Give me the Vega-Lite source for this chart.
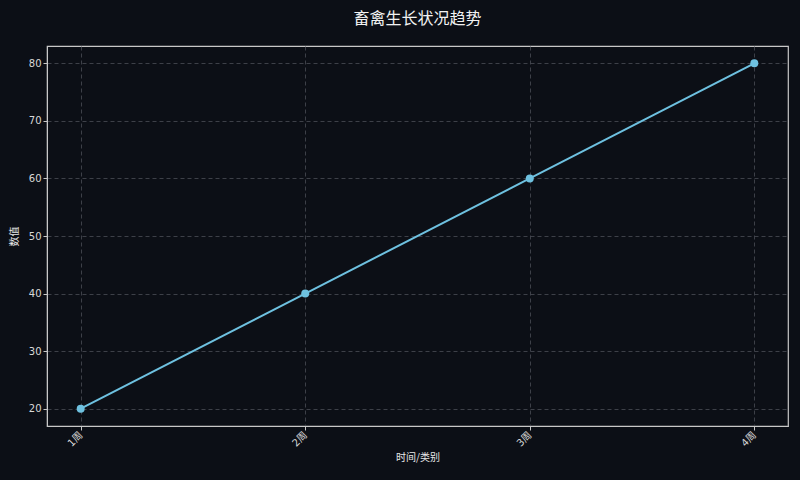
{
  "$schema": "https://vega.github.io/schema/vega-lite/v6.json",
  "autosize": {"type": "none"},
  "width": 741,
  "height": 380,
  "padding": {"left": 47, "top": 46, "right": 12, "bottom": 54},
  "background": "#0c0f16",
  "title": {
    "text": "畜禽生长状况趋势",
    "color": "#f2f2f2",
    "fontSize": 16,
    "fontWeight": "normal",
    "font": "Noto Sans CJK SC",
    "anchor": "middle",
    "offset": 19
  },
  "data": {
    "values": [
      {"period": "1周", "value": 20},
      {"period": "2周", "value": 40},
      {"period": "3周", "value": 60},
      {"period": "4周", "value": 80}
    ]
  },
  "encoding": {
    "x": {
      "field": "period",
      "type": "ordinal",
      "sort": null,
      "scale": {"type": "point", "padding": 0.15},
      "axis": {
        "title": "时间/类别",
        "labelAngle": -45,
        "labelAlign": "right",
        "labelBaseline": "middle",
        "labelPadding": 3
      }
    },
    "y": {
      "field": "value",
      "type": "quantitative",
      "scale": {"domain": [17, 83], "nice": false, "zero": false},
      "axis": {"title": "数值", "values": [20, 30, 40, 50, 60, 70, 80], "titlePadding": 9}
    }
  },
  "layer": [
    {"mark": {"type": "line", "color": "#6ec1e0", "strokeWidth": 2}},
    {"mark": {"type": "point", "filled": true, "color": "#6ec1e0", "size": 64, "opacity": 1}}
  ],
  "config": {
    "view": {"stroke": "#c8c8c8", "strokeWidth": 1.2},
    "axis": {
      "domainColor": "#c8c8c8",
      "tickColor": "#c8c8c8",
      "tickSize": 4,
      "labelColor": "#d8d8d8",
      "labelFontSize": 10,
      "labelFont": "DejaVu Sans, Noto Sans CJK SC",
      "titleColor": "#e8e8e8",
      "titleFontSize": 10,
      "titleFontWeight": "normal",
      "titleFont": "Noto Sans CJK SC",
      "grid": true,
      "gridColor": "#4a4d55",
      "gridDash": [4, 3],
      "gridWidth": 0.8
    }
  }
}
